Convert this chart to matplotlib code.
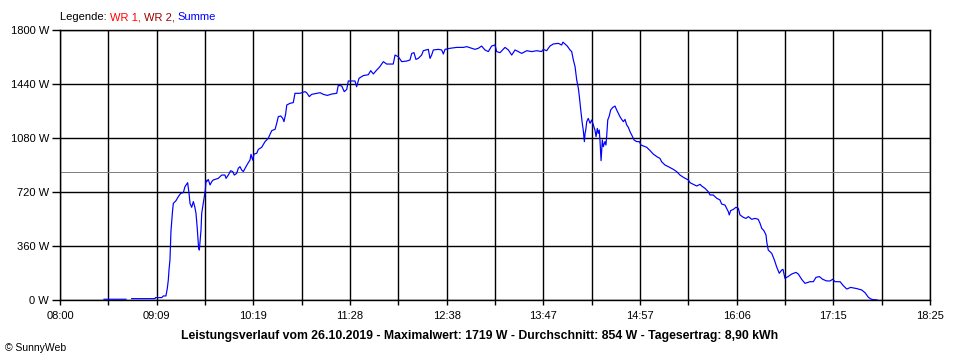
import numpy as np
import matplotlib
matplotlib.use("Agg")
import matplotlib.pyplot as plt

# Minuten nach 08:00 und Leistung in W (Summe)
minuten = [31.6, 47.4, np.nan, 51.5, 68.2, 68.6, 73.1, 74.2, 76.1, 77.1, 77.8, 78.3, 79.0, 79.7,
           80.7, 81.4, 83.3, 85.0, 86.7, 88.6, 89.8, 91.0, 91.7, 92.7, 93.4, 94.6, 95.8, 96.8,
           97.7, 98.6, 99.6, 100.1, 100.6, 101.3, 101.8, 102.9, 103.7, 104.4, 104.9, 105.4,
           106.5, 107.8, 109.0, 110.1, 113.7, 116.2, 118.5, 119.3, 120.9, 122.6, 124.1, 125.2,
           126.9, 128.1, 129.3, 130.5, 131.7, 133.6, 135.3, 136.5, 137.2, 138.4, 139.4, 141.3,
           142.5, 144.9, 147.3, 149.6, 152.1, 154.5, 155.7, 156.8, 158.6, 160.0, 160.9, 162.1,
           162.9, 165.2, 167.6, 168.8, 172.4, 176.0, 177.2, 179.1, 180.8, 184.4, 186.8, 189.2,
           192.0, 195.2, 198.8, 199.9, 202.4, 204.2, 206.0, 207.1, 211.9, 213.1, 214.8, 217.9,
           221.5, 223.2, 225.1, 227.5, 229.4, 232.3, 234.7, 239.4, 240.7, 243.0, 245.5, 249.1,
           251.4, 252.7, 254.3, 255.7, 257.4, 259.8, 261.0, 264.6, 265.8, 267.0, 268.2, 271.8,
           274.2, 275.4, 276.6, 280.2, 285.0, 289.7, 292.2, 295.8, 298.1, 300.5, 302.9, 305.3,
           307.7, 310.1, 312.5, 313.7, 316.1, 319.7, 322.1, 324.5, 326.9, 329.2, 331.7, 335.3,
           338.9, 342.5, 346.0, 347.2, 349.6, 352.0, 354.4, 358.0, 360.4, 361.3, 362.8, 364.4,
           366.4, 367.6, 368.8, 370.0, 371.2, 372.4, 373.1, 374.1, 375.2, 375.9, 376.7, 377.2,
           377.7, 378.4, 379.5, 380.8, 382.0, 383.1, 384.3, 385.1, 386.0, 386.7, 387.4, 387.9,
           388.7, 389.6, 390.3, 391.5, 392.2, 392.7, 393.5, 394.6, 395.6, 397.1, 398.7, 399.9,
           401.1, 402.3, 403.5, 404.7, 405.9, 407.1, 408.3, 409.5, 410.7, 412.4, 414.3, 416.2,
           417.4, 419.0, 421.5, 423.9, 426.2, 428.7, 431.0, 432.2, 434.6, 437.0, 440.6, 443.0,
           445.4, 447.8, 451.4, 452.6, 455.0, 457.4, 459.8, 461.0, 463.4, 465.7, 467.0, 469.3,
           471.8, 474.1, 475.3, 477.7, 478.9, 480.1, 480.8, 481.8, 483.7, 485.6, 487.3, 488.5,
           490.9, 492.8, 494.5, 496.9, 499.3, 501.6, 502.9, 504.1, 505.7, 507.2, 507.7, 508.8,
           511.3, 513.2, 514.8, 516.7, 518.5, 519.4, 520.8, 523.0, 525.6, 528.7, 530.4, 532.8,
           535.2, 538.8, 541.2, 543.1, 545.5, 547.9, 550.8, 553.2, 555.1, 556.8, 560.4, 562.7,
           565.2, 568.0, 572.4, 575.9, 578.3, 580.7, 583.1, 587.1]
summe = [5, 5, np.nan, 9, 9, 16, 16, 27, 27, 78, 133, 200, 267, 456,
         578, 644, 662, 689, 711, 716, 756, 773, 782, 711, 644, 618, 656, 622,
         578, 478, 344, 333, 389, 467, 578, 644, 689, 733, 796, 789,
         804, 767, 789, 800, 811, 833, 833, 811, 833, 862, 856, 833,
         844, 878, 889, 867, 856, 889, 916, 933, 971, 933, 973, 978,
         1004, 1018, 1056, 1078, 1129, 1138, 1178, 1222, 1227, 1211, 1189, 1240,
         1300, 1311, 1316, 1378, 1378, 1389, 1382, 1356, 1371, 1378, 1382, 1371,
         1364, 1373, 1378, 1431, 1427, 1389, 1404, 1460, 1460, 1422, 1478, 1496,
         1502, 1529, 1507, 1533, 1551, 1589, 1573, 1573, 1633, 1622, 1589, 1593,
         1600, 1644, 1649, 1604, 1611, 1633, 1662, 1671, 1611, 1633, 1667, 1671,
         1667, 1640, 1671, 1678, 1684, 1684, 1689, 1678, 1671, 1678, 1693, 1667,
         1656, 1693, 1700, 1656, 1649, 1684, 1667, 1633, 1667, 1656, 1644, 1662,
         1656, 1662, 1656, 1671, 1662, 1693, 1707, 1711, 1700, 1719, 1707, 1693,
         1667, 1656, 1600, 1556, 1467, 1411, 1356, 1267, 1178, 1133, 1056, 1111,
         1133, 1189, 1211, 1178, 1200, 1167, 1133, 1089, 1144, 1111, 1133, 1067,
         929, 1067, 1022, 1056, 1033, 1089, 1200, 1227, 1267, 1284, 1293, 1267,
         1244, 1222, 1204, 1189, 1204, 1167, 1151, 1122, 1100, 1067, 1056, 1056,
         1033, 1027, 1018, 996, 973, 956, 944, 922, 900, 889, 871, 856,
         833, 818, 800, 782, 771, 760, 771, 760, 744, 722, 700, 700,
         678, 667, 640, 633, 611, 589, 567, 596, 604, 618, 611, 567,
         551, 544, 556, 538, 544, 538, 511, 478, 462, 433, 389, 333,
         311, 267, 222, 178, 200, 204, 144, 156, 173, 184, 173, 138,
         111, 122, 122, 151, 156, 138, 127, 127, 138, 122, 122, 96,
         73, 84, 76, 67, 49, 18, 4, 0]

durchschnitt = 854
y_ticks = [0, 360, 720, 1080, 1440, 1800]
x_labels = ["08:00", "09:09", "10:19", "11:28", "12:38", "13:47", "14:57", "16:06", "17:15", "18:25"]
dauer = 625  # 08:00 bis 18:25 in Minuten

titel = ("Leistungsverlauf vom 26.10.2019 - Maximalwert: 1719 W - "
         "Durchschnitt: 854 W - Tagesertrag: 8,90 kWh")

plt.rcParams["font.family"] = ["Liberation Sans", "DejaVu Sans"]
px = 72 / 100  # 1 Pixel in Punkt

fig = plt.figure(figsize=(9.6, 3.6), dpi=100)
ax = fig.add_axes([60 / 960, 60 / 360, 870 / 960, 270 / 360])

ax.axhline(durchschnitt, color="#808080", lw=px, zorder=1)
ax.plot(minuten, summe, color="#0000ff", lw=px * 1.2, zorder=3)

# Gitter: alle halben Beschriftungsschritte eine Linie
x_pos = np.linspace(0, dauer, 2 * len(x_labels) - 1)
labels = []
for i in range(len(x_pos)):
    labels.append(x_labels[i // 2] if i % 2 == 0 else "")
ax.set_xticks(x_pos)
ax.set_xticklabels(labels)
ax.set_yticks(y_ticks)
ax.set_yticklabels([f"{v} W" for v in y_ticks])
ax.set_xlim(0, dauer)
ax.set_ylim(0, 1800)
ax.grid(True, color="black", lw=px * 1.4, zorder=0)
ax.set_axisbelow(True)
for s in ax.spines.values():
    s.set_linewidth(px * 1.4)
ax.tick_params(axis="x", length=5 * px, width=px * 1.4, pad=4, labelsize=8)
ax.tick_params(axis="y", length=8 * px, width=px * 1.4, pad=2, labelsize=8)

# Legende oben
t = fig.text(60 / 960, 1 - 17 / 360, "Legende: ", fontsize=8, va="center", color="black")
for txt, col in [("WR 1, ", "#ff0000"), ("WR 2, ", "#a00000"), ("Summe", "#0000ff")]:
    t = ax.annotate(txt, xy=(1, 0), xycoords=t, va="bottom", fontsize=8, color=col)

fig.text(480 / 960, 1 - 336 / 360, titel, ha="center", va="center",
         fontsize=8.8, fontweight="bold")
fig.text(5 / 960, 1 - 348 / 360, "\u00a9 SunnyWeb", fontsize=7.5, va="center")

fig.savefig("out.png", dpi=100)
